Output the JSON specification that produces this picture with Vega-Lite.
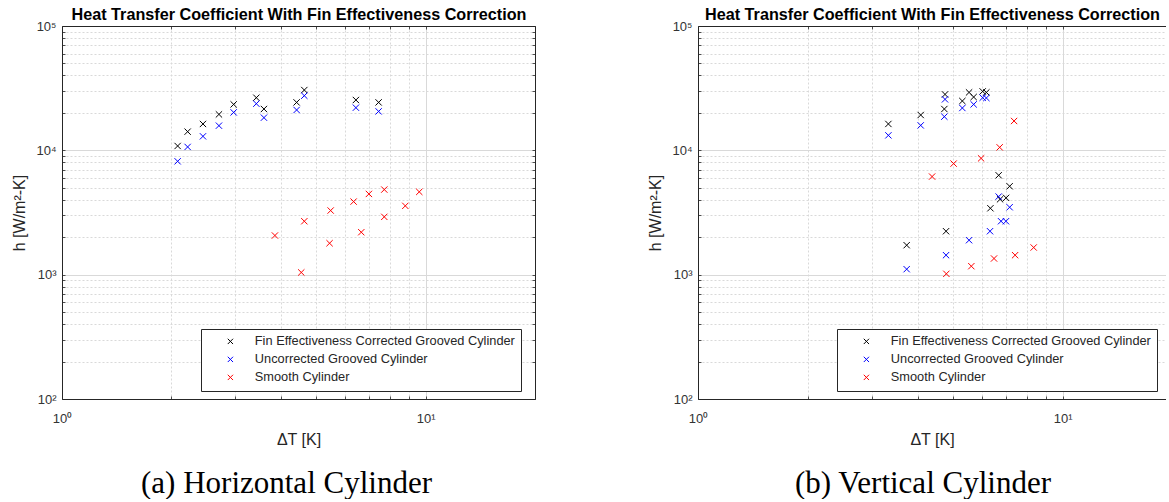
{
  "$schema": "https://vega.github.io/schema/vega-lite/v6.json",
  "background": "white",
  "padding": {"left": 11, "top": 6, "right": 0, "bottom": 0},
  "bounds": "flush",
  "spacing": 163,
  "config": {
    "font": "Liberation Sans",
    "view": {"stroke": null},
    "axis": {
      "domainColor": "#262626",
      "domainWidth": 1,
      "tickColor": "#262626",
      "tickSize": -3,
      "tickWidth": 0.8,
      "labelFont": "Liberation Sans",
      "labelFontSize": 13,
      "labelColor": "#333333",
      "labelFlush": false,
      "labelOverlap": false,
      "titleFont": "Liberation Sans",
      "titleFontSize": 16,
      "titleFontWeight": "normal",
      "titleColor": "#262626"
    },
    "legend": {
      "labelFont": "Liberation Sans",
      "labelFontSize": 12.8,
      "labelColor": "#262626",
      "labelLimit": 0
    }
  },
  "datasets": {
    "horizontal": [
      {"s": "Fin Effectiveness Corrected Grooved Cylinder", "dT": 2.08, "h": 10840},
      {"s": "Fin Effectiveness Corrected Grooved Cylinder", "dT": 2.216, "h": 14130},
      {"s": "Fin Effectiveness Corrected Grooved Cylinder", "dT": 2.442, "h": 16300},
      {"s": "Fin Effectiveness Corrected Grooved Cylinder", "dT": 2.702, "h": 19460},
      {"s": "Fin Effectiveness Corrected Grooved Cylinder", "dT": 2.966, "h": 23420},
      {"s": "Fin Effectiveness Corrected Grooved Cylinder", "dT": 3.424, "h": 26500},
      {"s": "Fin Effectiveness Corrected Grooved Cylinder", "dT": 3.593, "h": 21500},
      {"s": "Fin Effectiveness Corrected Grooved Cylinder", "dT": 4.419, "h": 24300},
      {"s": "Fin Effectiveness Corrected Grooved Cylinder", "dT": 4.64, "h": 30550},
      {"s": "Fin Effectiveness Corrected Grooved Cylinder", "dT": 6.433, "h": 25400},
      {"s": "Fin Effectiveness Corrected Grooved Cylinder", "dT": 7.428, "h": 24300},
      {"s": "Uncorrected Grooved Cylinder", "dT": 2.08, "h": 8160},
      {"s": "Uncorrected Grooved Cylinder", "dT": 2.216, "h": 10650},
      {"s": "Uncorrected Grooved Cylinder", "dT": 2.442, "h": 12960},
      {"s": "Uncorrected Grooved Cylinder", "dT": 2.702, "h": 15790},
      {"s": "Uncorrected Grooved Cylinder", "dT": 2.966, "h": 20190},
      {"s": "Uncorrected Grooved Cylinder", "dT": 3.424, "h": 23720},
      {"s": "Uncorrected Grooved Cylinder", "dT": 3.593, "h": 18310},
      {"s": "Uncorrected Grooved Cylinder", "dT": 4.419, "h": 21120},
      {"s": "Uncorrected Grooved Cylinder", "dT": 4.64, "h": 27500},
      {"s": "Uncorrected Grooved Cylinder", "dT": 6.433, "h": 22030},
      {"s": "Uncorrected Grooved Cylinder", "dT": 7.428, "h": 20570},
      {"s": "Smooth Cylinder", "dT": 3.852, "h": 2065},
      {"s": "Smooth Cylinder", "dT": 4.551, "h": 1042},
      {"s": "Smooth Cylinder", "dT": 4.64, "h": 2690},
      {"s": "Smooth Cylinder", "dT": 5.445, "h": 1790},
      {"s": "Smooth Cylinder", "dT": 5.482, "h": 3280},
      {"s": "Smooth Cylinder", "dT": 6.34, "h": 3870},
      {"s": "Smooth Cylinder", "dT": 6.656, "h": 2195},
      {"s": "Smooth Cylinder", "dT": 6.985, "h": 4460},
      {"s": "Smooth Cylinder", "dT": 7.7, "h": 4835},
      {"s": "Smooth Cylinder", "dT": 7.7, "h": 2917},
      {"s": "Smooth Cylinder", "dT": 8.796, "h": 3576},
      {"s": "Smooth Cylinder", "dT": 9.61, "h": 4634}
    ],
    "vertical": [
      {"s": "Fin Effectiveness Corrected Grooved Cylinder", "dT": 3.327, "h": 16300},
      {"s": "Fin Effectiveness Corrected Grooved Cylinder", "dT": 4.08, "h": 19240},
      {"s": "Fin Effectiveness Corrected Grooved Cylinder", "dT": 4.757, "h": 28180},
      {"s": "Fin Effectiveness Corrected Grooved Cylinder", "dT": 4.737, "h": 21500},
      {"s": "Fin Effectiveness Corrected Grooved Cylinder", "dT": 5.307, "h": 24930},
      {"s": "Fin Effectiveness Corrected Grooved Cylinder", "dT": 5.537, "h": 29240},
      {"s": "Fin Effectiveness Corrected Grooved Cylinder", "dT": 5.7, "h": 26840},
      {"s": "Fin Effectiveness Corrected Grooved Cylinder", "dT": 6.034, "h": 29780},
      {"s": "Fin Effectiveness Corrected Grooved Cylinder", "dT": 6.176, "h": 29240},
      {"s": "Fin Effectiveness Corrected Grooved Cylinder", "dT": 6.675, "h": 6300},
      {"s": "Fin Effectiveness Corrected Grooved Cylinder", "dT": 7.154, "h": 5140},
      {"s": "Fin Effectiveness Corrected Grooved Cylinder", "dT": 6.734, "h": 4040},
      {"s": "Fin Effectiveness Corrected Grooved Cylinder", "dT": 6.995, "h": 4147},
      {"s": "Fin Effectiveness Corrected Grooved Cylinder", "dT": 6.336, "h": 3420},
      {"s": "Fin Effectiveness Corrected Grooved Cylinder", "dT": 4.788, "h": 2236},
      {"s": "Fin Effectiveness Corrected Grooved Cylinder", "dT": 3.734, "h": 1726},
      {"s": "Uncorrected Grooved Cylinder", "dT": 3.327, "h": 13200},
      {"s": "Uncorrected Grooved Cylinder", "dT": 4.08, "h": 15870},
      {"s": "Uncorrected Grooved Cylinder", "dT": 4.757, "h": 25700},
      {"s": "Uncorrected Grooved Cylinder", "dT": 4.737, "h": 18650},
      {"s": "Uncorrected Grooved Cylinder", "dT": 5.307, "h": 21900},
      {"s": "Uncorrected Grooved Cylinder", "dT": 5.7, "h": 23420},
      {"s": "Uncorrected Grooved Cylinder", "dT": 6.034, "h": 26500},
      {"s": "Uncorrected Grooved Cylinder", "dT": 6.176, "h": 26370},
      {"s": "Uncorrected Grooved Cylinder", "dT": 6.675, "h": 4247},
      {"s": "Uncorrected Grooved Cylinder", "dT": 7.154, "h": 3485},
      {"s": "Uncorrected Grooved Cylinder", "dT": 6.776, "h": 2690},
      {"s": "Uncorrected Grooved Cylinder", "dT": 6.99, "h": 2690},
      {"s": "Uncorrected Grooved Cylinder", "dT": 6.32, "h": 2236},
      {"s": "Uncorrected Grooved Cylinder", "dT": 5.537, "h": 1893},
      {"s": "Uncorrected Grooved Cylinder", "dT": 4.788, "h": 1435},
      {"s": "Uncorrected Grooved Cylinder", "dT": 3.734, "h": 1107},
      {"s": "Smooth Cylinder", "dT": 7.357, "h": 17220},
      {"s": "Smooth Cylinder", "dT": 6.718, "h": 10570},
      {"s": "Smooth Cylinder", "dT": 5.974, "h": 8620},
      {"s": "Smooth Cylinder", "dT": 5.023, "h": 7820},
      {"s": "Smooth Cylinder", "dT": 4.384, "h": 6150},
      {"s": "Smooth Cylinder", "dT": 8.327, "h": 1654},
      {"s": "Smooth Cylinder", "dT": 7.405, "h": 1435},
      {"s": "Smooth Cylinder", "dT": 6.482, "h": 1349},
      {"s": "Smooth Cylinder", "dT": 5.617, "h": 1170},
      {"s": "Smooth Cylinder", "dT": 4.797, "h": 1016}
    ]
  },
  "hconcat": [
    {
      "width": 473,
      "height": 373,
      "title": {"text": "(a) Horizontal Cylinder", "orient": "bottom", "anchor": "middle", "font": "Liberation Serif", "fontSize": 31, "fontWeight": "normal", "color": "#000000", "offset": 22, "dx": -12},
      "data": {"name": "horizontal"},
      "layer": [
        {
          "mark": {"type": "point", "shape": "M-1,-1L1,1M1,-1L-1,1", "filled": false, "size": 40, "strokeWidth": 1, "opacity": 1},
          "encoding": {
            "x": {"field": "dT", "type": "quantitative", "scale": {"type": "log", "domain": [1, 20], "nice": false},
              "axis": {"orient": "bottom", "values": [1, 2, 3, 4, 5, 6, 7, 8, 9, 10, 20], "labelExpr": "datum.value == 1 ? '10⁰' : datum.value == 10 ? '10¹' : ''", "labelPadding": 16, "title": "ΔT [K]", "titlePadding": 6,
                "grid": true, "gridColor": "#d9d9d9", "gridWidth": 1,
                "gridDash": {"condition": {"test": "datum.value == 1 || datum.value == 10", "value": []}, "value": [2, 2]}}},
            "y": {"field": "h", "type": "quantitative", "scale": {"type": "log", "domain": [100, 100000], "nice": false},
              "axis": {"orient": "left", "values": [100, 200, 300, 400, 500, 600, 700, 800, 900, 1000, 2000, 3000, 4000, 5000, 6000, 7000, 8000, 9000, 10000, 20000, 30000, 40000, 50000, 60000, 70000, 80000, 90000, 100000],
                "labelExpr": "datum.value == 100 ? '10²' : datum.value == 1000 ? '10³' : datum.value == 10000 ? '10⁴' : datum.value == 100000 ? '10⁵' : ''", "labelPadding": 9, "title": "h [W/m²-K]", "titlePadding": 8,
                "grid": true, "gridColor": "#d9d9d9", "gridWidth": 1,
                "gridDash": {"condition": {"test": "datum.value == 100 || datum.value == 1000 || datum.value == 10000 || datum.value == 100000", "value": []}, "value": [2, 2]}}},
            "color": {"field": "s", "type": "nominal",
              "scale": {"domain": ["Fin Effectiveness Corrected Grooved Cylinder", "Uncorrected Grooved Cylinder", "Smooth Cylinder"], "range": ["#000000", "#0000ff", "#ff0000"]},
              "legend": {"orient": "none", "legendX": 139, "legendY": 303, "title": null, "strokeColor": "#262626", "fillColor": "white", "padding": 6, "rowPadding": 4, "symbolType": "M-1,-1L1,1M1,-1L-1,1", "symbolSize": 28, "symbolStrokeWidth": 1, "symbolOffset": 17, "labelOffset": 18}}
          }
        },
        {
          "mark": {"type": "point", "opacity": 0},
          "encoding": {
            "x": {"field": "dT", "type": "quantitative", "scale": {"type": "log", "domain": [1, 20], "nice": false},
              "axis": {"orient": "top", "values": [1, 2, 3, 4, 5, 6, 7, 8, 9, 10, 20], "labels": false, "grid": false, "title": "Heat Transfer Coefficient With Fin Effectiveness Correction", "titleFontWeight": "bold", "titleFontSize": 16.2, "titleColor": "#000000", "titlePadding": 3}},
            "y": {"field": "h", "type": "quantitative", "scale": {"type": "log", "domain": [100, 100000], "nice": false},
              "axis": {"orient": "right", "values": [100, 200, 300, 400, 500, 600, 700, 800, 900, 1000, 2000, 3000, 4000, 5000, 6000, 7000, 8000, 9000, 10000, 20000, 30000, 40000, 50000, 60000, 70000, 80000, 90000, 100000], "labels": false, "grid": false, "title": null}}
          }
        }
      ],
      "resolve": {"axis": {"x": "independent", "y": "independent"}}
    },
    {
      "width": 468,
      "height": 373,
      "title": {"text": "(b) Vertical Cylinder", "orient": "bottom", "anchor": "middle", "font": "Liberation Serif", "fontSize": 31, "fontWeight": "normal", "color": "#000000", "offset": 22, "dx": -9},
      "data": {"name": "vertical"},
      "layer": [
        {
          "mark": {"type": "point", "shape": "M-1,-1L1,1M1,-1L-1,1", "filled": false, "size": 40, "strokeWidth": 1, "opacity": 1},
          "encoding": {
            "x": {"field": "dT", "type": "quantitative", "scale": {"type": "log", "domain": [1, 19.2], "nice": false},
              "axis": {"orient": "bottom", "values": [1, 2, 3, 4, 5, 6, 7, 8, 9, 10], "labelExpr": "datum.value == 1 ? '10⁰' : datum.value == 10 ? '10¹' : ''", "labelPadding": 16, "title": "ΔT [K]", "titlePadding": 6,
                "grid": true, "gridColor": "#d9d9d9", "gridWidth": 1,
                "gridDash": {"condition": {"test": "datum.value == 1 || datum.value == 10", "value": []}, "value": [2, 2]}}},
            "y": {"field": "h", "type": "quantitative", "scale": {"type": "log", "domain": [100, 100000], "nice": false},
              "axis": {"orient": "left", "values": [100, 200, 300, 400, 500, 600, 700, 800, 900, 1000, 2000, 3000, 4000, 5000, 6000, 7000, 8000, 9000, 10000, 20000, 30000, 40000, 50000, 60000, 70000, 80000, 90000, 100000],
                "labelExpr": "datum.value == 100 ? '10²' : datum.value == 1000 ? '10³' : datum.value == 10000 ? '10⁴' : datum.value == 100000 ? '10⁵' : ''", "labelPadding": 9, "title": "h [W/m²-K]", "titlePadding": 8,
                "grid": true, "gridColor": "#d9d9d9", "gridWidth": 1,
                "gridDash": {"condition": {"test": "datum.value == 100 || datum.value == 1000 || datum.value == 10000 || datum.value == 100000", "value": []}, "value": [2, 2]}}},
            "color": {"field": "s", "type": "nominal",
              "scale": {"domain": ["Fin Effectiveness Corrected Grooved Cylinder", "Uncorrected Grooved Cylinder", "Smooth Cylinder"], "range": ["#000000", "#0000ff", "#ff0000"]},
              "legend": {"orient": "none", "legendX": 139, "legendY": 303, "title": null, "strokeColor": "#262626", "fillColor": "white", "padding": 6, "rowPadding": 4, "symbolType": "M-1,-1L1,1M1,-1L-1,1", "symbolSize": 28, "symbolStrokeWidth": 1, "symbolOffset": 17, "labelOffset": 18}}
          }
        },
        {
          "mark": {"type": "point", "opacity": 0},
          "encoding": {
            "x": {"field": "dT", "type": "quantitative", "scale": {"type": "log", "domain": [1, 19.2], "nice": false},
              "axis": {"orient": "top", "values": [1, 2, 3, 4, 5, 6, 7, 8, 9, 10], "labels": false, "grid": false, "title": "Heat Transfer Coefficient With Fin Effectiveness Correction", "titleFontWeight": "bold", "titleFontSize": 16.2, "titleColor": "#000000", "titlePadding": 3}}
          }
        }
      ],
      "resolve": {"axis": {"x": "independent", "y": "independent"}, "legend": {"color": "independent"}}
    }
  ],
  "resolve": {"legend": {"color": "independent"}}
}
